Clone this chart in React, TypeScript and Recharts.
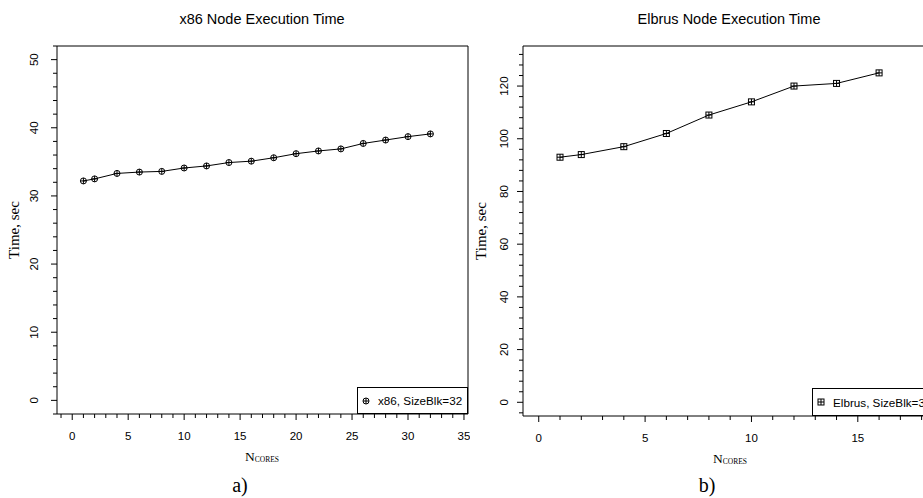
import { LineChart, Line, XAxis, YAxis, ReferenceArea, Legend, Customized } from 'recharts';

// x86 node: execution time vs number of cores
const x86Cores = [1, 2, 4, 6, 8, 10, 12, 14, 16, 18, 20, 22, 24, 26, 28, 30, 32];
const x86Time = [32.2, 32.5, 33.3, 33.5, 33.6, 34.1, 34.4, 34.9, 35.1, 35.6, 36.2, 36.6, 36.9, 37.7, 38.2, 38.7, 39.1];

// Elbrus node
const elbrusCores = [1, 2, 4, 6, 8, 10, 12, 14, 16];
const elbrusTime = [93, 94, 97, 102, 109, 114, 120, 121, 125];

// tick labels
const x86XLabels = [0, 5, 10, 15, 20, 25, 30, 35];
const x86YLabels = [0, 10, 20, 30, 40, 50];
const elbrusXLabels = [0, 5, 10, 15];
const elbrusYLabels = [0, 20, 40, 60, 80, 100, 120];

const range = (a: number, b: number, step: number) => {
  const out: number[] = [];
  for (let v = a; v <= b + 1e-9; v += step) out.push(v);
  return out;
};

const SANS = '"Liberation Sans", Arial, sans-serif';
const SERIF = '"Liberation Serif", "Times New Roman", serif';

const makeXTick = (labels: number[]) => (props: any) => {
  const { x, y, payload } = props;
  const major = labels.includes(payload.value);
  return (
    <g>
      <line x1={x} y1={y} x2={x} y2={y + (major ? 6 : 4)} stroke='#000' />
      {major && (
        <text x={x} y={y + 22} dy='0.35em' textAnchor='middle' fontFamily={SANS} fontSize={11.5} fill='#000'>
          {payload.value}
        </text>
      )}
    </g>
  );
};

const makeYTick = (labels: number[], labelOffset: number) => (props: any) => {
  const { x, y, payload } = props;
  const major = labels.includes(payload.value);
  const lx = x - labelOffset;
  return (
    <g>
      <line x1={x} y1={y} x2={x - (major ? 6 : 4)} y2={y} stroke='#000' />
      {major && (
        <text
          x={lx}
          y={y}
          dy='0.35em'
          transform={`rotate(-90, ${lx}, ${y})`}
          textAnchor='middle'
          fontFamily={SANS}
          fontSize={11.5}
          fill='#000'
        >
          {payload.value}
        </text>
      )}
    </g>
  );
};

const Marker = ({ shape, cx, cy }: { shape: 'circle' | 'square'; cx: number; cy: number }) => (
  <g>
    {shape === 'circle' ? (
      <circle cx={cx} cy={cy} r={3} fill='none' stroke='#000' />
    ) : (
      <rect x={cx - 3} y={cy - 3} width={6} height={6} fill='none' stroke='#000' />
    )}
    <line x1={cx - 3} x2={cx + 3} y1={cy} y2={cy} stroke='#000' />
    <line x1={cx} x2={cx} y1={cy - 3} y2={cy + 3} stroke='#000' />
  </g>
);

const LegendBox = ({ label, shape, w, h }: any) => (
  <div
    style={{
      width: w,
      height: h,
      boxSizing: 'border-box',
      border: '1px solid #000',
      background: '#fff',
      display: 'flex',
      alignItems: 'center',
      paddingLeft: 3,
      whiteSpace: 'nowrap',
      overflow: 'hidden',
      fontFamily: SANS,
      fontSize: 11.7,
      color: '#000',
    }}
  >
    <svg width={10} height={10} style={{ flex: 'none' }}>
      <Marker shape={shape} cx={5} cy={5} />
    </svg>
    <span style={{ marginLeft: 7 }}>{label}</span>
  </div>
);

type PanelProps = {
  cores: number[];
  times: number[];
  width: number;
  yAxisWidth: number;
  xAxisHeight: number;
  xDomain: [number, number];
  yDomain: [number, number];
  xTicks: number[];
  yTicks: number[];
  xLabels: number[];
  yLabels: number[];
  yLabelOffset: number;
  title: string;
  titleX: number;
  yTitleX: number;
  nX: number;
  letter: string;
  letterX: number;
  shape: 'circle' | 'square';
  legendLabel: string;
  legendBox: { left: number; top: number; width: number; height: number };
};

const Panel = (p: PanelProps) => {
  const data = p.cores.map((c, i) => ({ cores: c, time: p.times[i] }));
  const plotBottom = 498 - p.xAxisHeight;
  const plotMid = (46 + plotBottom) / 2;
  return (
    <LineChart width={p.width} height={498} data={data} margin={{ top: 46, right: 2, bottom: 0, left: 0 }}>
      <XAxis
        dataKey='cores'
        type='number'
        domain={p.xDomain}
        allowDataOverflow
        ticks={p.xTicks}
        interval={0}
        height={p.xAxisHeight}
        tickSize={0}
        tickMargin={0}
        tickLine={false}
        axisLine={false}
        tick={makeXTick(p.xLabels)}
      />
      <YAxis
        type='number'
        domain={p.yDomain}
        allowDataOverflow
        ticks={p.yTicks}
        interval={0}
        width={p.yAxisWidth}
        tickSize={0}
        tickMargin={0}
        tickLine={false}
        axisLine={false}
        tick={makeYTick(p.yLabels, p.yLabelOffset)}
      />
      <ReferenceArea
        x1={p.xDomain[0]}
        x2={p.xDomain[1]}
        y1={p.yDomain[0]}
        y2={p.yDomain[1]}
        fill='none'
        fillOpacity={0}
        stroke='#000'
        strokeOpacity={1}
        ifOverflow='visible'
      />
      <Line
        type='linear'
        dataKey='time'
        stroke='#000'
        strokeWidth={1}
        isAnimationActive={false}
        activeDot={false}
        dot={(d: any) => <Marker key={`m${d.index}`} shape={p.shape} cx={d.cx} cy={d.cy} />}
      />
      <Legend
        layout='vertical'
        align='center'
        verticalAlign='middle'
        wrapperStyle={{ ...p.legendBox }}
        content={() => (
          <LegendBox label={p.legendLabel} shape={p.shape} w={p.legendBox.width} h={p.legendBox.height} />
        )}
      />
      <Customized
        component={() => (
          <g>
            <text x={p.titleX} y={24} textAnchor='middle' fontFamily={SANS} fontSize={14.5} fill='#000'>
              {p.title}
            </text>
            <text
              x={p.yTitleX}
              y={plotMid}
              dy='0.35em'
              transform={`rotate(-90, ${p.yTitleX}, ${plotMid})`}
              textAnchor='middle'
              fontFamily={SERIF}
              fontSize={15}
              fill='#000'
            >
              Time, sec
            </text>
            <text x={p.nX} y={plotBottom + 47} textAnchor='middle' fontFamily={SERIF} fill='#000'>
              <tspan fontSize={13.5}>N</tspan>
              <tspan fontSize={7.5} dy={1}>
                CORES
              </tspan>
            </text>
            <text x={p.letterX} y={492} textAnchor='middle' fontFamily={SERIF} fontSize={20} fill='#000'>
              {p.letter}
            </text>
          </g>
        )}
      />
    </LineChart>
  );
};

export default function App() {
  return (
    <div
      style={{
        position: 'absolute',
        left: 0,
        top: 0,
        width: 923,
        height: 498,
        overflow: 'hidden',
        background: '#fff',
      }}
    >
      <div style={{ position: 'absolute', left: 0, top: 0 }}>
        <Panel
          cores={x86Cores}
          times={x86Time}
          width={470}
          yAxisWidth={57}
          xAxisHeight={84}
          xDomain={[-1.36, 35.36]}
          yDomain={[-2, 52]}
          xTicks={range(-1, 35, 1)}
          yTicks={range(-2, 52, 2)}
          xLabels={x86XLabels}
          yLabels={x86YLabels}
          yLabelOffset={23}
          title='x86 Node Execution Time'
          titleX={262}
          yTitleX={14}
          nX={262}
          letter='a)'
          letterX={240}
          shape='circle'
          legendLabel='x86, SizeBlk=32'
          legendBox={{ left: 357, top: 387, width: 111, height: 27 }}
        />
      </div>
      <div style={{ position: 'absolute', left: 470, top: 0 }}>
        <Panel
          cores={elbrusCores}
          times={elbrusTime}
          width={480}
          yAxisWidth={53}
          xAxisHeight={82}
          xDomain={[-0.74, 19.24]}
          yDomain={[-5.2, 135.2]}
          xTicks={range(0, 19, 1)}
          yTicks={range(-4, 132, 4)}
          xLabels={elbrusXLabels}
          yLabels={elbrusYLabels}
          yLabelOffset={19}
          title='Elbrus Node Execution Time'
          titleX={259}
          yTitleX={11}
          nX={260}
          letter='b)'
          letterX={237}
          shape='square'
          legendLabel='Elbrus, SizeBlk=32'
          legendBox={{ left: 342, top: 388, width: 136, height: 28 }}
        />
      </div>
    </div>
  );
}
